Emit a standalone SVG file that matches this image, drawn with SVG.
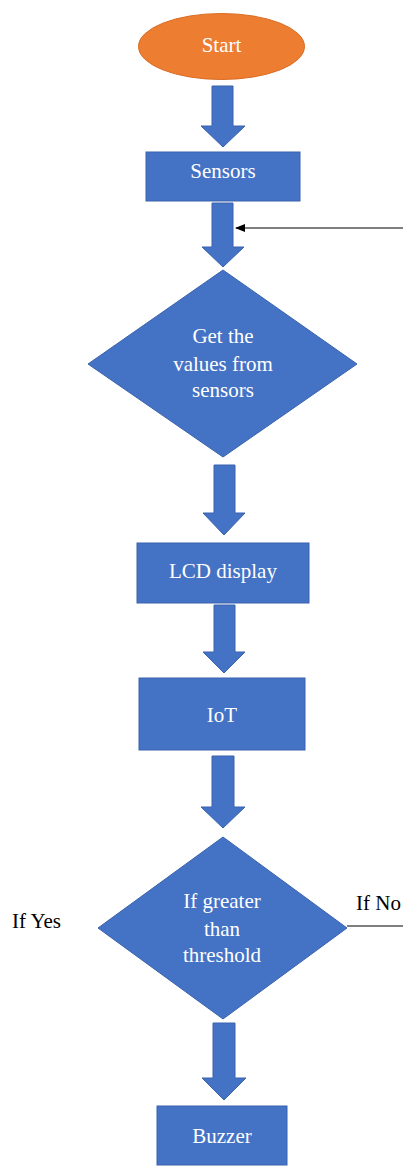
<svg xmlns="http://www.w3.org/2000/svg" width="403" height="1166" viewBox="0 0 403 1166">
<style>
.blue{fill:#4472C4;stroke:#3A63AE;stroke-width:1}
.arr{fill:#4472C4;stroke:#3A63AE;stroke-width:1}
.wt{font-family:"Liberation Serif","Times New Roman",serif;font-size:21px;fill:#FFFFFF;text-anchor:middle}
.bt{font-family:"Liberation Serif","Times New Roman",serif;font-size:21px;fill:#000000}
</style>
<defs>
<marker id="ah" markerWidth="10" markerHeight="8" refX="9" refY="4" orient="auto" markerUnits="userSpaceOnUse">
<path d="M0,0 L10,4 L0,8 Z" fill="#000"/>
</marker>
</defs>
<rect width="403" height="1166" fill="#FFFFFF"/>
<g id="connectors">
<polygon class="arr" points="212,86 233,86 233,126 245,126 223,147 201,126 212,126"/>
<polygon class="arr" points="212,203 233,203 233,247 244,247 223,267 202,247 212,247"/>
<polygon class="arr" points="214,465 235,465 235,513 245,513 224,535 203,513 214,513"/>
<polygon class="arr" points="214,605 235,605 235,652 245,652 224,673 203,652 214,652"/>
<polygon class="arr" points="212,756 234,756 234,807 245,807 223,828 201,807 212,807"/>
<polygon class="arr" points="213,1023 235,1023 235,1078 246,1078 224,1100 202,1078 213,1078"/>
<line x1="403" y1="228" x2="236" y2="228" stroke="#000" stroke-width="1.2" marker-end="url(#ah)"/>
<line x1="347" y1="926" x2="403" y2="926" stroke="#000" stroke-width="1"/>
</g>
<g id="start">
<ellipse cx="221.5" cy="46.5" rx="83" ry="33" fill="#ED7D31" stroke="#D86C22" stroke-width="1"/>
<text class="wt" x="221.5" y="52">Start</text>
</g>
<g id="sensors">
<rect class="blue" x="146" y="152" width="154" height="49"/>
<text class="wt" x="223" y="178">Sensors</text>
</g>
<g id="get-values">
<polygon class="blue" points="223,270 357,364 223,457 88,364"/>
<text class="wt" x="223" y="343">Get the</text>
<text class="wt" x="223" y="371">values from</text>
<text class="wt" x="223" y="397">sensors</text>
</g>
<g id="lcd">
<rect class="blue" x="137" y="543" width="172" height="60"/>
<text class="wt" x="223" y="578">LCD display</text>
</g>
<g id="iot">
<rect class="blue" x="139" y="678" width="166" height="72"/>
<text class="wt" x="222" y="722">IoT</text>
</g>
<g id="threshold">
<polygon class="blue" points="223,837 347,928 223,1019 98,928"/>
<text class="wt" x="222" y="908">If greater</text>
<text class="wt" x="222" y="936">than</text>
<text class="wt" x="222" y="962">threshold</text>
</g>
<g id="buzzer">
<rect class="blue" x="157" y="1106" width="130" height="59"/>
<text class="wt" x="222" y="1143">Buzzer</text>
</g>
<g id="labels">
<text class="bt" x="12" y="928">If Yes</text>
<text class="bt" x="356" y="910">If No</text>
</g>
</svg>
